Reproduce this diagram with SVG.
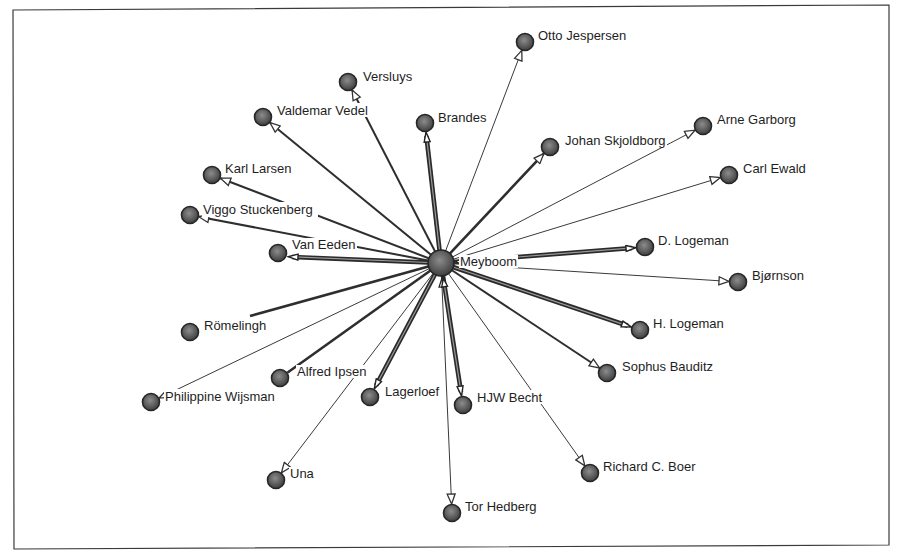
<svg xmlns="http://www.w3.org/2000/svg" width="902" height="552" viewBox="0 0 902 552">
<defs>
<radialGradient id="g" cx="45%" cy="40%" r="60%">
<stop offset="0" stop-color="#8c8c8c"/>
<stop offset="1" stop-color="#3e3e3e"/>
</radialGradient>
<marker id="a" markerUnits="userSpaceOnUse" viewBox="-1 -1 12 10" refX="10" refY="4" markerWidth="12" markerHeight="10" orient="auto">
<path d="M0,0 L10,4 L0,8 z" fill="#fff" stroke="#333" stroke-width="1.3"/>
</marker>
<marker id="ak" markerUnits="userSpaceOnUse" viewBox="-1 -1 12 8" refX="10" refY="3" markerWidth="12" markerHeight="8" orient="auto">
<path d="M0,0 L10,3 L0,6 z" fill="#fff" stroke="#222" stroke-width="1.4"/>
</marker>
<marker id="r" markerUnits="userSpaceOnUse" viewBox="-1 -1 10 8" refX="8" refY="3" markerWidth="10" markerHeight="8" orient="auto-start-reverse">
<path d="M0,0 L8,3 L0,6 z" fill="#fff" stroke="#222" stroke-width="1.3"/>
</marker>
</defs>
<style>
.t{stroke:#3a3a3a;stroke-width:1;fill:none}
.m{stroke:#2e2e2e;stroke-width:2;fill:none}
.m2{stroke:#2e2e2e;stroke-width:2.6;fill:none}
.k{stroke:#2a2a2a;stroke-width:4.6;fill:none}
.c{stroke:#9a9a9a;stroke-width:1.2;fill:none}
.n{fill:url(#g);stroke:#262626;stroke-width:1.6}
.b{fill:#fff}
text{font-family:"Liberation Sans",Arial,sans-serif;font-size:13px;fill:#1e1e1e}
</style>
<rect x="0" y="0" width="902" height="552" fill="#fff"/>
<polygon points="13,10 889,5 889,545 14,549" fill="#fff" stroke="#3a3a3a" stroke-width="1.2"/>
<g id="connectors">
<line class="t" x1="441" y1="263" x2="521.8" y2="50.4" marker-end="url(#a)"/>
<line class="m" x1="441" y1="263" x2="352.1" y2="90" marker-end="url(#a)"/>
<line class="m" x1="441" y1="263" x2="270" y2="122.7" marker-end="url(#a)"/>
<line class="k" x1="441" y1="263" x2="426.4" y2="136"/>
<line class="c" x1="441" y1="263" x2="426" y2="132" marker-end="url(#ak)"/>
<line class="m2" x1="441" y1="263" x2="543.8" y2="153.6" marker-end="url(#a)"/>
<line class="t" x1="441" y1="263" x2="695" y2="130.2" marker-end="url(#a)"/>
<line class="t" x1="441" y1="263" x2="720.4" y2="177.6" marker-end="url(#a)"/>
<line class="m" x1="441" y1="263" x2="220.4" y2="178.2" marker-end="url(#a)"/>
<line class="m" x1="441" y1="263" x2="198.8" y2="216.7" marker-end="url(#a)"/>
<line class="k" x1="441" y1="263" x2="292" y2="257"/>
<line class="c" x1="441" y1="263" x2="288" y2="256.7" marker-end="url(#ak)"/>
<line class="k" x1="441" y1="263" x2="632" y2="248"/>
<line class="c" x1="455" y1="261.9" x2="636" y2="247.7" marker-start="url(#r)" marker-end="url(#ak)"/>
<line class="t" x1="441" y1="263" x2="729" y2="281.4" marker-end="url(#a)"/>
<line class="k" x1="441" y1="263" x2="627.7" y2="325.8"/>
<line class="c" x1="441" y1="263" x2="631.5" y2="327.1" marker-end="url(#ak)"/>
<line class="m" x1="441" y1="263" x2="599.5" y2="368" marker-end="url(#a)"/>
<line class="t" x1="441" y1="263" x2="584.8" y2="465.7" marker-end="url(#a)"/>
<line class="t" x1="441.7" y1="279" x2="451.6" y2="504" marker-start="url(#r)" marker-end="url(#a)"/>
<line class="t" x1="441" y1="263" x2="441.7" y2="279"/>
<line class="k" x1="441" y1="263" x2="461" y2="392"/>
<line class="c" x1="443.4" y1="278.8" x2="461.6" y2="396.1" marker-start="url(#r)" marker-end="url(#ak)"/>
<line class="k" x1="441" y1="263" x2="376" y2="385.5"/>
<line class="c" x1="441" y1="263" x2="374.2" y2="389" marker-end="url(#ak)"/>
<line class="t" x1="441" y1="263" x2="281.4" y2="472.8" marker-end="url(#a)"/>
<line class="m2" x1="441" y1="263" x2="287.3" y2="372.8"/>
<line class="t" x1="441" y1="263" x2="159.1" y2="398.1" marker-end="url(#a)"/>
<line class="m2" x1="441" y1="263" x2="250" y2="316"/>
</g>
<g id="meyboom"><circle class="n" cx="441" cy="263" r="13"/><rect class="b" x="459" y="255" width="59" height="13"/><text x="460" y="266">Meyboom</text></g>
<g id="otto"><circle class="n" cx="525" cy="42" r="8.5"/><rect class="b" x="537" y="29" width="90" height="13"/><text x="538" y="40">Otto Jespersen</text></g>
<g id="versluys"><circle class="n" cx="348" cy="82" r="8.5"/><rect class="b" x="362" y="70" width="52" height="13"/><text x="363" y="81">Versluys</text></g>
<g id="valdemar"><circle class="n" cx="263" cy="117" r="8.5"/><rect class="b" x="276" y="103" width="95" height="14"/><text x="277" y="115">Valdemar Vedel</text></g>
<g id="brandes"><circle class="n" cx="425" cy="123" r="8.5"/><rect class="b" x="437" y="111" width="50" height="13"/><text x="438" y="122">Brandes</text></g>
<g id="johan"><circle class="n" cx="550" cy="147" r="8.5"/><rect class="b" x="564" y="133" width="103" height="14"/><text x="565" y="145">Johan Skjoldborg</text></g>
<g id="arne"><circle class="n" cx="703" cy="126" r="8.5"/><rect class="b" x="716" y="113" width="81" height="13"/><text x="717" y="124">Arne Garborg</text></g>
<g id="carl"><circle class="n" cx="729" cy="175" r="8.5"/><rect class="b" x="742" y="162" width="65" height="13"/><text x="743" y="173">Carl Ewald</text></g>
<g id="karl"><circle class="n" cx="212" cy="175" r="8.5"/><rect class="b" x="224" y="162" width="69" height="13"/><text x="225" y="173">Karl Larsen</text></g>
<g id="viggo"><circle class="n" cx="190" cy="215" r="8.5"/><rect class="b" x="202" y="202" width="116" height="15"/><text x="203" y="214">Viggo Stuckenberg</text></g>
<g id="vaneeden"><circle class="n" cx="278" cy="253" r="8.5"/><rect class="b" x="291" y="238" width="66" height="13"/><text x="292" y="249">Van Eeden</text></g>
<g id="dlogeman"><circle class="n" cx="645" cy="247" r="8.5"/><rect class="b" x="657" y="234" width="73" height="13"/><text x="658" y="245">D. Logeman</text></g>
<g id="bjornson"><circle class="n" cx="738" cy="282" r="8.5"/><rect class="b" x="751" y="269" width="54" height="13"/><text x="752" y="280">Bjørnson</text></g>
<g id="romelingh"><circle class="n" cx="190" cy="332" r="8.5"/><rect class="b" x="203" y="318" width="64" height="14"/><text x="204" y="330">Römelingh</text></g>
<g id="hlogeman"><circle class="n" cx="640" cy="330" r="8.5"/><rect class="b" x="652" y="317" width="73" height="13"/><text x="653" y="328">H. Logeman</text></g>
<g id="alfred"><circle class="n" cx="280" cy="378" r="8.5"/><rect class="b" x="296" y="365" width="70" height="13"/><text x="297" y="376">Alfred Ipsen</text></g>
<g id="sophus"><circle class="n" cx="607" cy="373" r="8.5"/><rect class="b" x="621" y="360" width="93" height="13"/><text x="622" y="371">Sophus Bauditz</text></g>
<g id="philippine"><circle class="n" cx="151" cy="402" r="8.5"/><rect class="b" x="164" y="389" width="113" height="14"/><text x="165" y="401">Philippine Wijsman</text></g>
<g id="lagerloef"><circle class="n" cx="370" cy="397" r="8.5"/><rect class="b" x="384" y="384" width="56" height="14"/><text x="385" y="396">Lagerloef</text></g>
<g id="hjwbecht"><circle class="n" cx="463" cy="405" r="8.5"/><rect class="b" x="476" y="390" width="67" height="14"/><text x="477" y="402">HJW Becht</text></g>
<g id="una"><circle class="n" cx="276" cy="480" r="8.5"/><rect class="b" x="289" y="467" width="26" height="13"/><text x="290" y="478">Una</text></g>
<g id="richard"><circle class="n" cx="590" cy="473" r="8.5"/><rect class="b" x="602" y="459" width="95" height="14"/><text x="603" y="471">Richard C. Boer</text></g>
<g id="tor"><circle class="n" cx="452" cy="513" r="8.5"/><rect class="b" x="464" y="499" width="75" height="14"/><text x="465" y="511">Tor Hedberg</text></g>
</svg>
